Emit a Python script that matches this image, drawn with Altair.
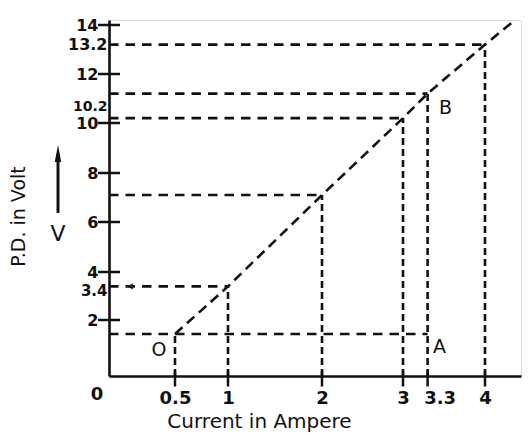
import altair as alt
import pandas as pd

# ---------------- data ----------------
# points on the V-I line (current in A, p.d. in V); last one is the line's overshoot
line_I = [0.5, 1, 2, 3, 3.3, 4, 4.33]
line_V = [1.5, 3.4, 7.1, 10.2, 11.2, 13.2, 14.1]

# horizontal dashed guides: level (V) and where they stop (I)
h_level = [13.2, 11.2, 10.2, 7.1, 3.4, 1.5]
h_end = [4, 3.3, 3, 2, 1, 3.3]

# vertical dashed guides: position (I) and where they stop (V)
v_pos = [0.5, 1, 2, 3, 3.3, 4]
v_top = [1.5, 3.4, 7.1, 10.2, 11.2, 13.2]

x_ticks = [0.5, 1, 2, 3, 3.3, 4]
x_labels_main = [0.5, 1, 2, 3, 4]
x_labels_extra = [3.3]
y_ticks = [2, 4, 6, 8, 10, 12, 14]
y_label_a = [13.2]
y_label_b = [10.2]
y_label_c = [3.4]

point_names = ["O", "A", "B"]
point_I = [0.5, 3.3, 3.3]
point_V = [1.5, 1.5, 11.2]

arrow_I = [0.16]
arrow_V = [3.4]

# ---------------- hand-drawn (piecewise linear) axes ----------------
W, H = 412, 356
x_break = [0, 0.5, 1, 2, 3, 4, 4.44]
x_pix = [0, 66, 119, 213, 294, 376, W]
y_break = [0, 2, 4, 6, 8, 10, 12, 14, 14.2]
y_pix = [H, 300, 252, 202, 153, 103, 54, 5, 0]

xs = alt.Scale(domain=x_break, range=x_pix, nice=False, zero=False)
ys = alt.Scale(domain=y_break, range=y_pix, nice=False, zero=False)

INK = "#111111"
FONT = "DejaVu Sans"

common = dict(labelExpr="datum.value + ''", ticks=False, tickSize=0, grid=False,
              labelFont=FONT, labelFontWeight="bold", labelColor=INK,
              labelOverlap=False, labelFlush=False, labelBaseline="middle")

x_axis = alt.Axis(
    values=x_labels_main, orient="bottom", domainColor=INK, domainWidth=2.6,
    labelFontSize=18, labelPadding=22,
    title="Current in Ampere", titleFont=FONT, titleFontSize=20, titleFontWeight="normal",
    titleColor=INK, titleX=150, titleY=45, titleAlign="center", titleBaseline="middle",
    **common,
)
x_axis_extra = alt.Axis(
    values=x_labels_extra, orient="bottom", domain=False, labelFontSize=18,
    labelPadding=22, labelOffset=12, title=None, **common,
)
y_axis = alt.Axis(
    values=y_ticks, orient="left", domainColor=INK, domainWidth=2.6,
    labelFontSize=16, labelPadding=11,
    title="P.D. in Volt", titleFont=FONT, titleFontSize=19, titleFontWeight="normal",
    titleColor=INK, titleAngle=270, titleX=-91, titleY=196, titleAlign="center",
    titleBaseline="middle", **common,
)


def extra_y(vals, size, offset):
    return alt.Axis(values=vals, orient="left", domain=False, labelFontSize=size,
                    labelPadding=2, labelOffset=offset, title=None, **common)


def X(field=None, datum=None, axis=None):
    if field is not None:
        return alt.X(field, type="quantitative", scale=xs, axis=axis)
    return alt.XDatum(datum, type="quantitative", scale=xs, axis=None)


def Y(field=None, datum=None, axis=None):
    if field is not None:
        return alt.Y(field, type="quantitative", scale=ys, axis=axis)
    return alt.YDatum(datum, type="quantitative", scale=ys, axis=None)


line_df = pd.DataFrame({"I": line_I, "V": line_V})
h_df = pd.DataFrame({"V": h_level, "I1": h_end, "I0": [0] * len(h_level)})
v_df = pd.DataFrame({"I": v_pos, "V1": v_top, "V0": [0] * len(v_pos)})
xt_df = pd.DataFrame({"I": x_ticks})
yt_df = pd.DataFrame({"V": y_ticks})
pt_df = pd.DataFrame({"name": point_names, "I": point_I, "V": point_V})
ar_df = pd.DataFrame({"I": arrow_I, "V": arrow_V})

diag = alt.Chart(line_df).mark_line(
    color=INK, strokeWidth=2.6, strokeDash=[10, 6]
).encode(x=X("I", axis=x_axis), y=Y("V", axis=y_axis), order="I:Q")

hguides = alt.Chart(h_df).mark_rule(
    color=INK, strokeWidth=2.6, strokeDash=[9.5, 7]
).encode(x=X("I0", axis=x_axis_extra), x2="I1", y=Y("V", axis=extra_y(y_label_a, 16, 0)))

vguides = alt.Chart(v_df).mark_rule(
    color=INK, strokeWidth=2.6, strokeDash=[7, 4]
).encode(x=X("I"), y=Y("V0", axis=extra_y(y_label_b, 14, -12)), y2="V1")

yticks = alt.Chart(yt_df).mark_tick(
    orient="horizontal", size=22, thickness=2.5, color=INK, opacity=1
).encode(x=X(datum=0), y=Y("V"))

xticks = alt.Chart(xt_df).mark_tick(
    orient="vertical", size=15, thickness=2.5, color=INK, opacity=1, yOffset=3
).encode(x=X("I"), y=Y(datum=0))

arrowhead = alt.Chart(ar_df).mark_point(
    shape="triangle-left", filled=True, size=40, color=INK, opacity=1
).encode(x=X("I"), y=Y("V", axis=extra_y(y_label_c, 15, 4)))

offsets = {"O": (-16, 16), "A": (12, 13), "B": (18, 14)}
point_labels = [
    alt.Chart(pt_df[pt_df["name"] == n]).mark_text(
        font=FONT, fontSize=19, color=INK, dx=dx, dy=dy, baseline="middle", align="center"
    ).encode(x=X("I"), y=Y("V"), text="name:N")
    for n, (dx, dy) in offsets.items()
]

origin = alt.Chart(pd.DataFrame({"t": ["0"]})).mark_text(
    font=FONT, fontSize=18, fontWeight="bold", color=INK, dx=-12, dy=19,
    baseline="middle", align="center"
).encode(x=X(datum=0), y=Y(datum=0), text="t:N")

# "V" with upward arrow beside the vertical axis title
v_shaft = alt.Chart(pd.DataFrame({"a": [0]})).mark_rule(color=INK, strokeWidth=3).encode(
    x=alt.value(-51), y=Y(datum=6.37), y2=alt.datum(8.78)
)
v_head = alt.Chart(pd.DataFrame({"a": [0]})).mark_point(
    shape="M0,-1L0.38,1L-0.38,1Z", filled=True, size=289, color=INK, opacity=1
).encode(x=alt.value(-51), y=Y(datum=8.78))
v_text = alt.Chart(pd.DataFrame({"t": ["V"]})).mark_text(
    font=FONT, fontSize=22, color=INK, baseline="middle", align="center"
).encode(x=alt.value(-51), y=Y(datum=5.52), text="t:N")

chart = alt.layer(
    diag, hguides, vguides, yticks, xticks, arrowhead, *point_labels, origin,
    v_shaft, v_head, v_text
).resolve_axis(x="independent", y="independent").properties(
    width=W, height=H,
    padding={"left": 101, "top": 12, "right": 2, "bottom": 57},
    autosize=alt.AutoSizeParams(type="none"),
).configure_view(strokeWidth=0).configure(background="white")

chart.save("out.html", embed_options={"renderer": "svg", "actions": False})
